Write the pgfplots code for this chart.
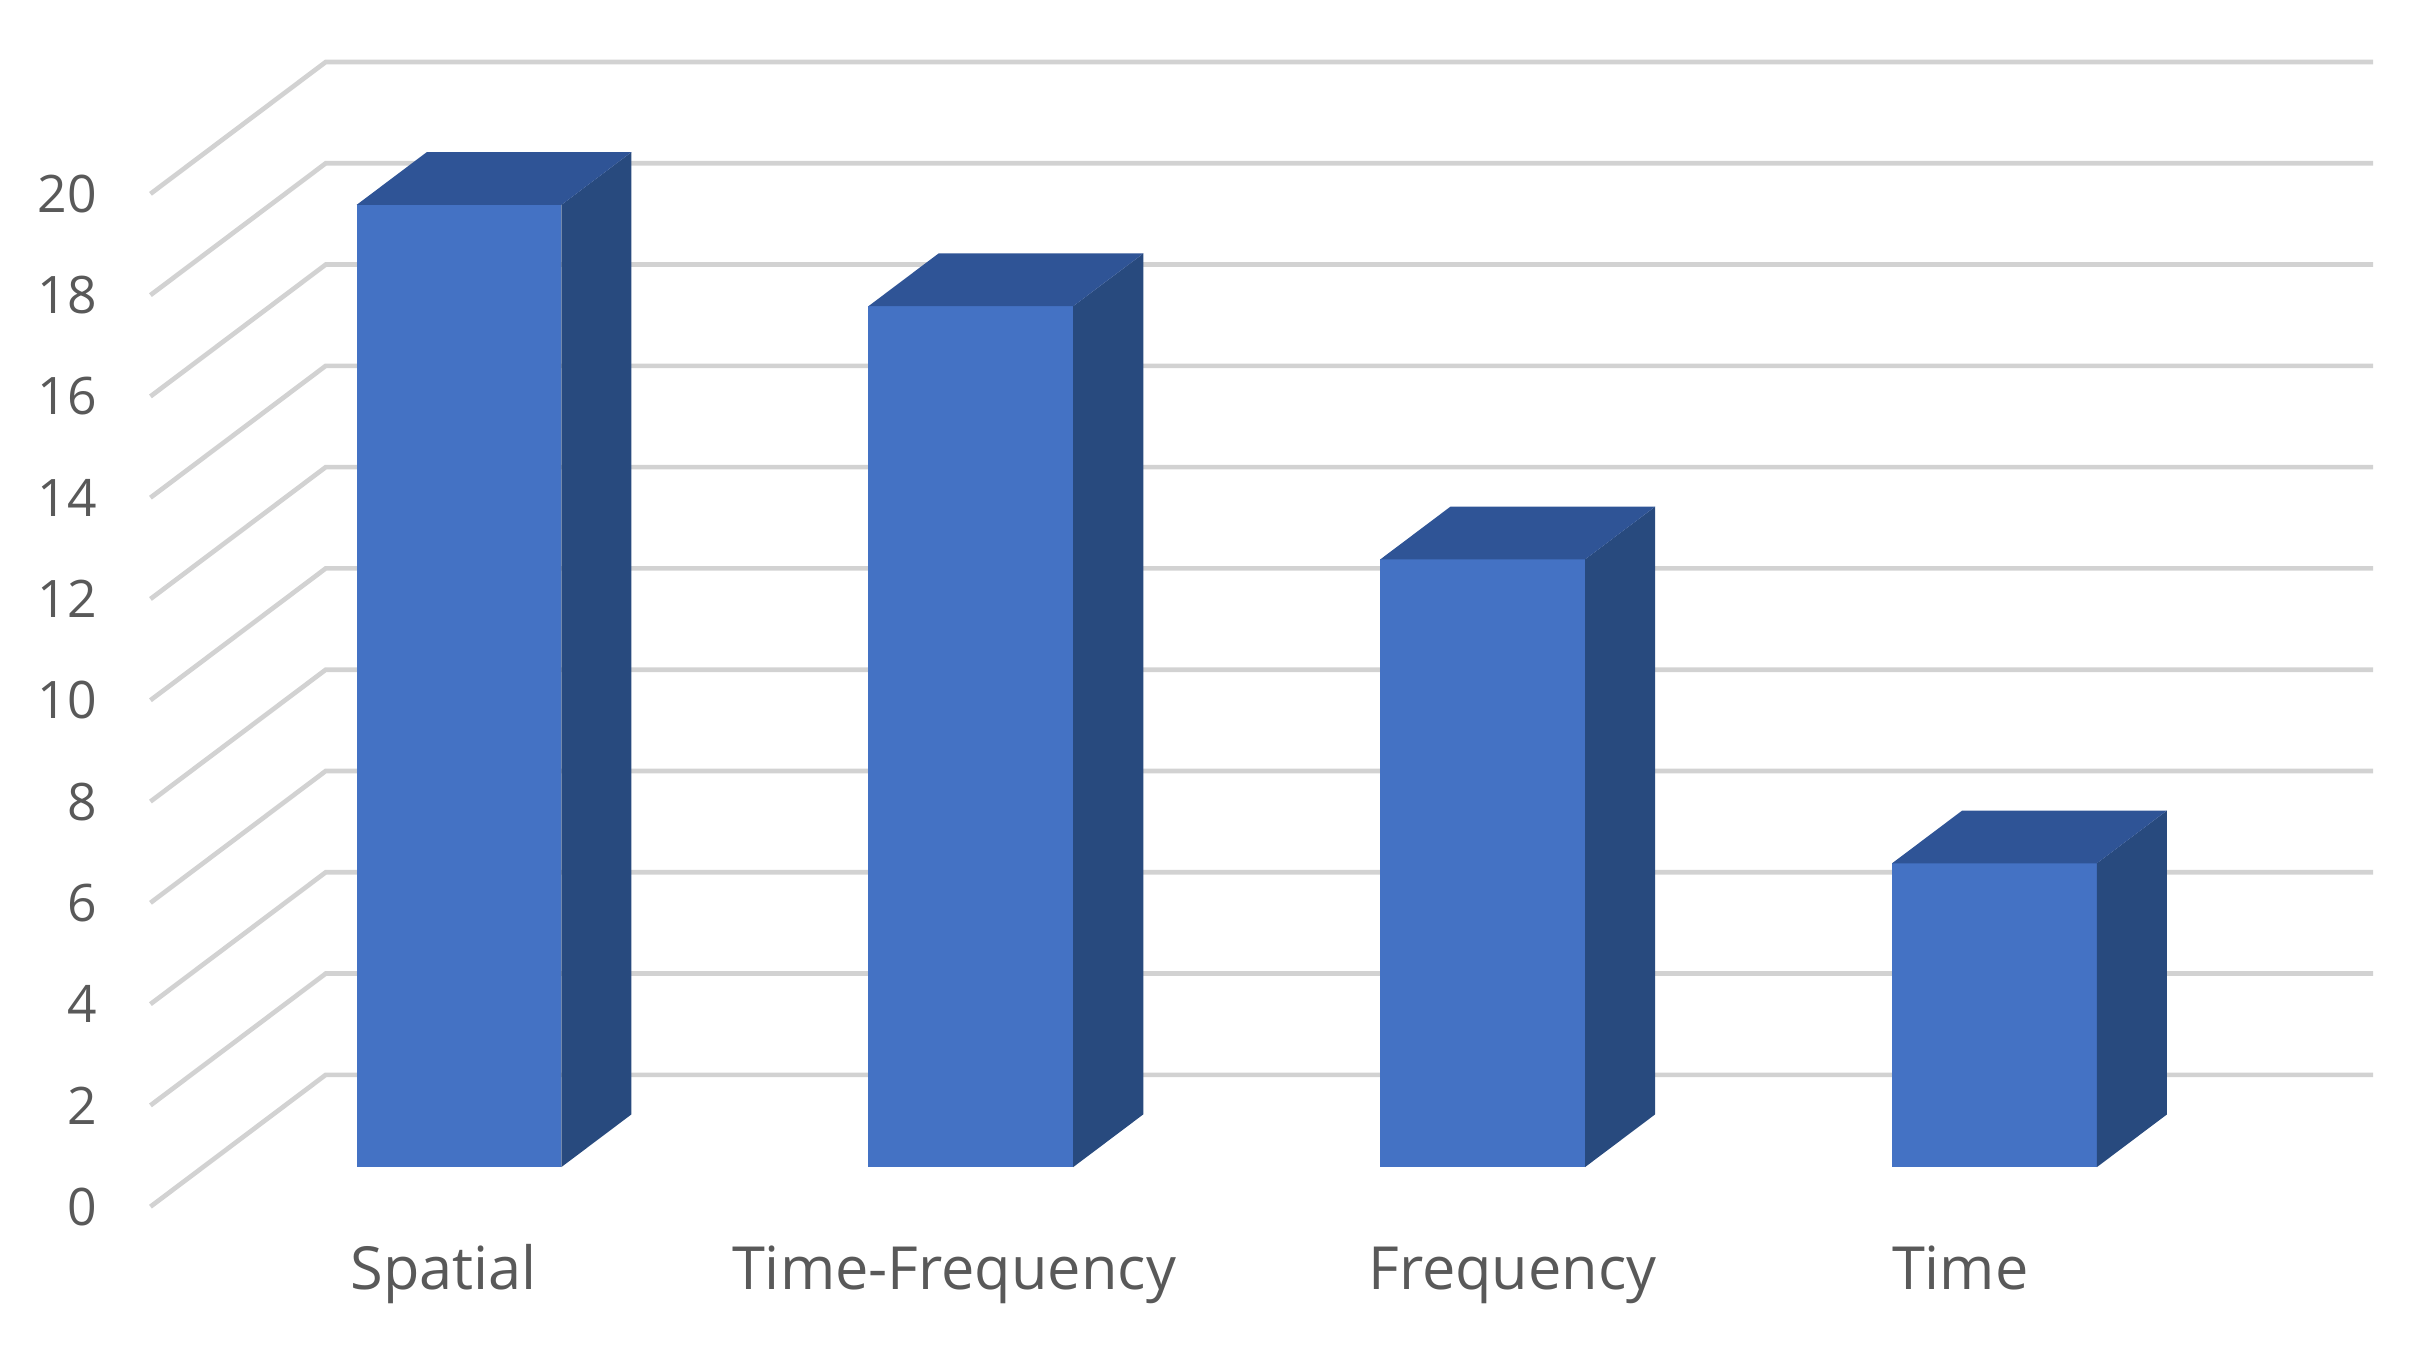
\documentclass[border=0pt]{standalone}
\usepackage{fontspec}
\setmainfont{Open Sans}
\usepackage{pgfplots}
\pgfplotsset{compat=1.18}
\definecolor{barfront}{HTML}{4472C4}
\definecolor{bartop}{HTML}{2F5496}
\definecolor{barside}{HTML}{284A7E}
\definecolor{gridcol}{HTML}{D2D2D2}
\definecolor{labelgray}{HTML}{595959}

% one 3D bar: left x, right x, value
\newcommand{\cuboid}[3]{%
  \addplot3[fill=barfront, draw=none] coordinates {(#1,0.3,0) (#2,0.3,0) (#2,0.3,#3) (#1,0.3,#3)} -- cycle;
  \addplot3[fill=barside, draw=none] coordinates {(#2,0.3,0) (#2,0.7,0) (#2,0.7,#3) (#2,0.3,#3)} -- cycle;
  \addplot3[fill=bartop, draw=none] coordinates {(#1,0.3,#3) (#2,0.3,#3) (#2,0.7,#3) (#1,0.7,#3)} -- cycle;
}

\begin{document}
\begin{tikzpicture}
\path[use as bounding box] (0,0) rectangle (470.4pt,261.6pt);
\begin{axis}[
  x={(99pt,0pt)}, y={(33.9pt,25.5pt)}, z={(0pt,9.795pt)},
  xmin=0, xmax=4, ymin=0, ymax=1, zmin=0, zmax=20,
  anchor=origin, at={(29.1pt,28.2pt)},
  clip=false,
  axis lines=left,
  axis line style={draw=none},
  major tick length=0pt,
  xtick={0.573,1.570,2.661,3.536},
  xticklabels={Spatial, Time-Frequency, Frequency, Time},
  ytick=\empty,
  ztick={0,2,...,20},
  /pgf/number format/assume math mode=true,
  xticklabel style={font=\fontsize{11.5}{13}\selectfont, text=labelgray, anchor=base, inner sep=0pt, yshift=-16.1pt},
  zticklabel style={font=\fontsize{10}{12}\selectfont, text=labelgray, anchor=east, inner sep=0pt, xshift=-10.2pt},
  no markers,
]
\pgfplotsinvokeforeach{0,2,...,20}{
  \addplot3[gridcol, line width=0.9pt] coordinates {(0,0,#1) (0,1,#1) (4,1,#1)};
}
\cuboid{0.3}{0.7}{19}
\cuboid{1.3}{1.7}{17}
\cuboid{2.3}{2.7}{12}
\cuboid{3.3}{3.7}{6}
\end{axis}
\end{tikzpicture}
\end{document}
